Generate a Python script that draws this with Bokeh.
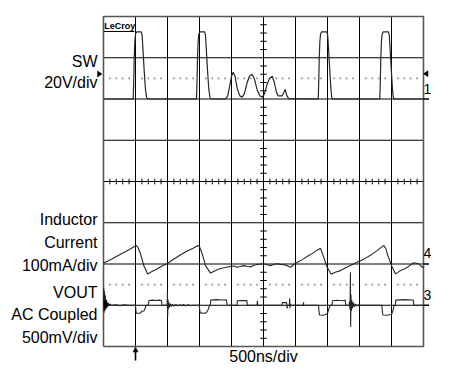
import numpy as np
from bokeh.plotting import figure
from bokeh.models import Range1d, ColumnDataSource
from bokeh.embed import file_html
from bokeh.resources import INLINE
from bokeh.core.properties import value

# ---------------- data (read from the scope screen) ----------------
# time base: 500 ns/div, 10 divisions
time_per_div_ns = 500
n_xdiv = 10
n_ydiv = 8

# Channel 1 : SW node, volts, 20 V/div, ground at division 6
sw_scale, sw_offset = 20, 6
sw_t = [0, 464, 472, 480, 490, 500, 515, 590, 603, 615, 635, 655, 672, 690,
        1453, 1461, 1469, 1479, 1490, 1505, 1580, 1593, 1605, 1625, 1645, 1662, 1680,
        1906, 1940, 1970, 2000, 2027, 2055, 2090, 2130, 2167,
        2200, 2240, 2280, 2323, 2360, 2400, 2445, 2480,
        2515, 2555, 2595, 2636, 2670, 2700, 2730, 2790, 2815, 2839, 2860, 2891,
        3355, 3363, 3371, 3381, 3392, 3407, 3490, 3503, 3515, 3535, 3553, 3565, 3578,
        4317, 4325, 4333, 4343, 4354, 4369, 4452, 4465, 4477, 4497, 4515, 4527, 4540,
        5000]
sw_v = [0, 0, 8, 20, 28, 31.5, 32.5, 32.5, 31, 25, 14, 5, 1, 0,
        0, 8, 20, 28, 31.5, 32.5, 32.5, 31, 25, 14, 5, 1, 0,
        0, 1.5, 6, 11, 13, 11, 5, 1.5, 0.9,
        2.5, 7.5, 11, 12, 9.5, 4.5, 1.5, 0.9,
        2.5, 7, 10, 11, 8, 3.5, 1.5, 1.5, 3, 4.6, 2, 0.2,
        0, 8, 20, 28, 31.5, 32.5, 32.5, 31, 25, 14, 5, 1, 0,
        0, 8, 20, 28, 31.5, 32.5, 32.5, 31, 25, 14, 5, 1, 0,
        0]

# Channel 4 : inductor current, mA, 100 mA/div, reference at division 2
il_scale, il_offset = 100, 2
il_t = [0, 130, 260, 390, 511, 540, 578, 630, 692, 750, 813, 900, 1005, 1100, 1200, 1300, 1400, 1473,
        1500, 1542, 1594, 1672, 1720, 1777, 1830, 1880, 1984, 2040, 2089, 2140, 2192, 2245, 2297,
        2350, 2401, 2505, 2560, 2609, 2660, 2714, 2770, 2817, 2870, 2922, 2960, 3000, 3100, 3200,
        3280, 3328, 3360, 3391, 3442, 3495, 3558, 3620, 3703, 3800, 3964, 4080, 4172, 4280, 4380,
        4410, 4442, 4511, 4563, 4640, 4719, 4800, 4848, 4927, 4980, 5000]
il_ma = [2, 12, 23, 34, 45, 40, 25, -4, -24, -19, -14, -6, 2, 12, 22, 31, 38, 45,
         42, 25, -4, -22, -18, -14, -11, -9, -6, -5, -8, -6, -4, -6, -7,
         -3, -1, 0.5, -2, -4, -1, 0.5, -1, -2, -4, -8, -3, 2, 10, 20,
         27, 33, 35, 38, 16, -8, -25, -20, -16, -8, 4, 13, 21, 33, 45,
         38, 21, -8, -24, -16, -11, -2, 3, 0.5, -8, -6]

# Channel 3 : VOUT, AC coupled, mV, 500 mV/div, reference at division 1
vo_scale, vo_offset = 500, 1
vo_t = [0, 4, 9, 15, 21, 28, 36, 45, 56, 70, 85, 100, 120, 200, 260, 320, 400, 500,
        506, 512, 560, 585, 595, 630, 650, 665, 700, 708, 760, 820, 870, 905, 915,
        995, 999, 1003, 1008, 1013, 1020, 1030, 1045, 1060, 1080, 1100, 1130, 1160, 1190,
        1220, 1250, 1280, 1320, 1360, 1400, 1495, 1503, 1510, 1560, 1600, 1615, 1640, 1655,
        1668, 1676, 1760, 1850, 1920, 1932, 2085, 2092, 2160, 2240, 2248, 2400, 2404, 2410,
        2600, 2790, 2796, 2862, 2868, 2875, 2905, 2909, 2913, 2918, 2925, 3120, 3125, 3130,
        3360, 3368, 3375, 3430, 3470, 3500, 3515, 3530, 3545, 3570, 3578, 3650, 3720, 3778,
        3786, 3835, 3845, 3852, 3858, 3862, 3867, 3873, 3880, 3890, 3903, 3918, 3935, 3955,
        3980, 4010, 4350, 4358, 4365, 4420, 4500, 4525, 4540, 4560, 4567, 4700, 4840, 4850,
        5000]
vo_mv = [0, 210, -90, 170, -70, 120, -50, 70, -25, 35, -10, 15, 0, 5, -5, 5, 0, 0,
         -60, -95, -97, -90, -72, -70, -40, 0, 0, 55, 62, 57, 62, 58, 0,
         0, 160, -130, 70, -45, 35, -25, 20, -15, 12, -10, 10, -8, 8,
         -6, 8, -5, 5, -4, 0, 0, -50, -92, -97, -92, -80, -45, 0,
         0, 62, 68, 63, 67, 0, 0, 55, 58, 56, 0, 0, 55, 0,
         0, 0, 32, 32, -40, 0, 0, 85, -35, 15, 0, 0, 35, 0,
         0, -80, -118, -122, -112, -100, -60, -25, 0, 0, 55, 60, 55, 60,
         0, 0, 45, -55, 400, -265, 130, -70, 60, -40, 35, -20, 15, -8,
         5, 0, 0, -80, -118, -122, -112, -60, 0, 0, 62, 68, 63, 0,
         0]

left_labels = ["SW", "20V/div", "Inductor", "Current", "100mA/div",
               "VOUT", "AC Coupled", "500mV/div"]
time_label = "500ns/div"
brand_label = "LeCroy"
channel_tags = ["1", "4", "3"]
trigger_time_ns = 500

# ---------------- geometry (pixels of the picture) ----------------
W, H = 439, 364
XPX = 32.0      # px per horizontal division
YPX = 41.25     # px per vertical division
FL, FB = 103, 346   # picture px of scope grid left/bottom
NSPX = time_per_div_ns / XPX


def PX(page_x):
    return (page_x - FL) * NSPX


def PY(page_y):
    return (FB - page_y) / YPX


x0 = PX(0)
x1 = x0 + W * NSPX
y1 = PY(0)
y0 = y1 - H / YPX

p = figure(width=W, height=H, x_range=Range1d(x0, x1), y_range=Range1d(y0, y1),
           output_backend="svg", toolbar_location=None,
           x_axis_type=None, y_axis_type=None, min_border=0)
p.outline_line_color = None
p.background_fill_color = "white"
p.border_fill_color = "white"

tmax = n_xdiv * time_per_div_ns

# inner grid
vx = [i * time_per_div_ns for i in range(1, n_xdiv)]
p.segment(x0=vx, y0=[0] * len(vx), x1=vx, y1=[n_ydiv] * len(vx), line_color="black", line_width=1)
hy = list(range(1, n_ydiv))
p.segment(x0=[0] * len(hy), y0=hy, x1=[tmax] * len(hy), y1=hy, line_color="black", line_width=1)

# center cross minor ticks
cx = tmax / 2
cy = n_ydiv / 2
ty = [k * 0.2 for k in range(1, n_ydiv * 5) if k % 5 != 0]
hl = 3.3 * NSPX
p.segment(x0=[cx - hl] * len(ty), y0=ty, x1=[cx + hl] * len(ty), y1=ty, line_color="black", line_width=1)
tx = [k * time_per_div_ns / 5 for k in range(1, n_xdiv * 5) if k % 5 != 0]
vl = 2.8 / YPX
p.segment(x0=tx, y0=[cy - vl] * len(tx), x1=tx, y1=[cy + vl] * len(tx), line_color="black", line_width=1)

# dotted trigger-level lines
for lev in (6.5, 1.5):
    p.scatter(x=tx, y=[lev] * len(tx), marker="square", size=1.6, color="#8a8a8a", line_width=0)

# outer border
p.multi_line(xs=[[0, tmax, tmax, 0, 0]], ys=[[0, 0, n_ydiv, n_ydiv, 0]], line_color="#555555", line_width=1.6)

# traces
tc = "#262626"
p.line(x=sw_t, y=[sw_offset + v / sw_scale for v in sw_v], line_color=tc, line_width=1.2)
p.line(x=il_t, y=[il_offset + v / il_scale for v in il_ma], line_color=tc, line_width=1.1)
p.line(x=vo_t, y=[vo_offset + v / vo_scale for v in vo_mv], line_color=tc, line_width=1.1)

# ground / reference markers on right edge
refs = [sw_offset, il_offset, vo_offset]
p.segment(x0=[tmax] * 3, y0=refs, x1=[PX(428.5)] * 3, y1=refs, line_color="black", line_width=1.6)

# channel marker triangles
p.patches(xs=[[PX(97), PX(97), PX(101.5)], [PX(427.5), PX(427.5), PX(423)],
              [PX(103.5), PX(103.5), PX(108.5)]],
          ys=[[PY(70.5), PY(76.5), PY(73.5)], [PY(70.2), PY(76.2), PY(73.2)],
              [PY(299.5), PY(309.5), PY(304.5)]],
          fill_color="black", line_color="black", line_width=0.5)

# channel tags on right
p.text(x=[PX(423)] * 3, y=[PY(88.5), PY(252.5), PY(294)], text=channel_tags,
       text_font=value("Liberation Sans"), text_font_size=value("14px"),
       text_align="left", text_baseline="middle", text_color="black")

# trigger arrow
p.segment(x0=[trigger_time_ns], y0=[PY(349)], x1=[trigger_time_ns], y1=[PY(360)], line_color="black", line_width=1.6)
p.patches(xs=[[trigger_time_ns - 2.5 * NSPX, trigger_time_ns + 2.5 * NSPX, trigger_time_ns]],
          ys=[[PY(351.5), PY(351.5), PY(346.5)]], fill_color="black", line_color="black", line_width=0.5)

# left labels
lab_y = [PY(61), PY(81.5), PY(218.5), PY(242), PY(265), PY(291.7), PY(313.7), PY(336.5)]
src = ColumnDataSource(dict(x=[PX(97)] * len(left_labels), y=lab_y, t=left_labels))
p.text(x="x", y="y", text="t", source=src, text_font=value("Liberation Sans"),
       text_font_size=value("16px"), text_align="right", text_baseline="middle",
       text_color="black")

# time base label
p.text(x=[tmax / 2], y=[PY(355.5)], text=[time_label], text_font=value("Liberation Sans"),
       text_font_size=value("16px"), text_align="center", text_baseline="middle",
       text_color="black")

# brand label
p.text(x=[PX(103.8)], y=[PY(25)], text=[brand_label], text_font=value("Liberation Sans"),
       text_font_size=value("9px"), text_font_style="bold", text_align="left",
       text_baseline="middle", text_color="black")
p.segment(x0=[PX(103.5)], y0=[PY(31)], x1=[PX(134)], y1=[PY(31)], line_color="black", line_width=1)

open("out.html", "w").write(file_html(p, INLINE))
